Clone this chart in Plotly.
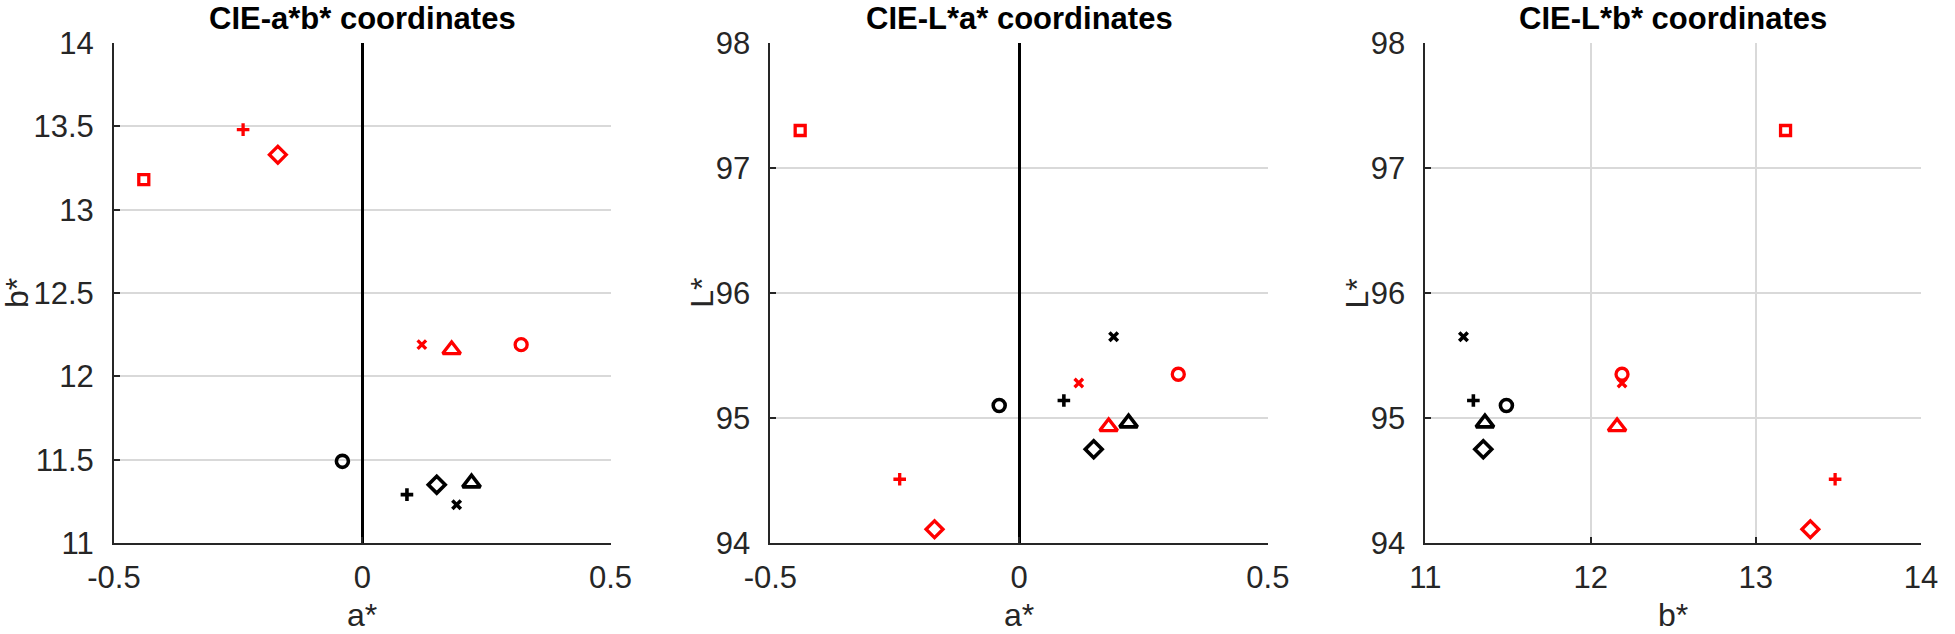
import plotly.graph_objects as go

# ---------------- data ----------------
red_symbols = ["square-open", "cross-thin-open", "diamond-open", "x-thin-open", "triangle-up-open", "circle-open"]
red_a = [-0.44, -0.24, -0.17, 0.12, 0.18, 0.32]
red_b = [13.18, 13.48, 13.33, 12.19, 12.16, 12.19]
red_L = [97.30, 94.51, 94.11, 95.28, 94.93, 95.35]

black_symbols = ["circle-open", "cross-thin-open", "diamond-open", "x-thin-open", "triangle-up-open"]
black_a = [-0.04, 0.09, 0.15, 0.19, 0.22]
black_b = [11.49, 11.29, 11.35, 11.23, 11.36]
black_L = [95.10, 95.14, 94.75, 95.65, 94.96]

panel_titles = ["CIE-a*b* coordinates", "CIE-L*a* coordinates", "CIE-L*b* coordinates"]
x_titles = ["a*", "a*", "b*"]
y_titles = ["b*", "L*", "L*"]
a_ticks = [-0.5, 0, 0.5]
b_ticks = [11, 11.5, 12, 12.5, 13, 13.5, 14]
b_ticks3 = [11, 12, 13, 14]
L_ticks = [94, 95, 96, 97, 98]

size_map = {"square-open": 10, "cross-thin-open": 9, "diamond-open": 13,
            "x-thin-open": 8.5, "triangle-up-open": 15.5, "circle-open": 12}

FONT = "Liberation Sans, Arial, sans-serif"
AX = "#262626"
GRID = "#d9d9d9"

W, H = 1955, 634
px = [(114.0, 613.0), (773.6, 1273.6), (1432.0, 1930.0)]
top, bottom = 43.0, 543.5
ml, mr, mt, mb = px[0][0], W - px[2][1], top, H - bottom
pw = W - ml - mr
domains = [[(a - ml) / pw, (b - ml) / pw] for a, b in px]

fig = go.Figure()

panels = [
    (red_a, red_b, black_a, black_b),
    (red_a, red_L, black_a, black_L),
    (red_b, red_L, black_b, black_L),
]

for i, (rx, ry, bx, by) in enumerate(panels):
    xa = "x" if i == 0 else f"x{i+1}"
    ya = "y" if i == 0 else f"y{i+1}"
    fig.add_trace(go.Scatter(
        x=rx, y=ry, mode="markers", xaxis=xa, yaxis=ya, showlegend=False, opacity=1,
        marker=dict(symbol=red_symbols, size=[size_map[s] for s in red_symbols], opacity=1,
                    color="#ff0000", line=dict(color="#ff0000", width=3.3)),
    ))
    fig.add_trace(go.Scatter(
        x=bx, y=by, mode="markers", xaxis=xa, yaxis=ya, showlegend=False, opacity=1,
        marker=dict(symbol=black_symbols, size=[size_map[s] for s in black_symbols], opacity=1,
                    color="#000000", line=dict(color="#000000", width=3.6)),
    ))

axis_common = dict(
    showline=True, linecolor=AX, linewidth=2, mirror=False,
    ticks="inside", ticklen=6, tickwidth=1.5, tickcolor=AX,
    showgrid=True, gridcolor=GRID, gridwidth=1.5,
    tickfont=dict(family=FONT, size=31, color=AX),
)

x_ranges = [[-0.5, 0.5], [-0.5, 0.5], [11, 14]]
y_ranges = [[11, 14], [94, 98], [94, 98]]
x_tickvals = [a_ticks, a_ticks, b_ticks3]
y_tickvals = [b_ticks, L_ticks, L_ticks]

layout = dict(
    width=W, height=H,
    margin=dict(l=ml, r=mr, t=mt, b=mb, pad=0),
    paper_bgcolor="white", plot_bgcolor="white",
    font=dict(family=FONT, color=AX),
)
for i in range(3):
    xk = "xaxis" if i == 0 else f"xaxis{i+1}"
    yk = "yaxis" if i == 0 else f"yaxis{i+1}"
    ya = "y" if i == 0 else f"y{i+1}"
    xa = "x" if i == 0 else f"x{i+1}"
    layout[xk] = dict(axis_common, domain=domains[i], range=x_ranges[i], anchor=ya,
                      tickvals=x_tickvals[i], ticktext=[f"{v:g}" for v in x_tickvals[i]],
                      zeroline=(i < 2), zerolinecolor="#000000", zerolinewidth=3,
                      ticklabelstandoff=6)
    layout[yk] = dict(axis_common, domain=[0, 1], range=y_ranges[i], anchor=xa,
                      tickvals=y_tickvals[i], ticktext=[f"{v:g}" for v in y_tickvals[i]],
                      zeroline=False, ticklabelstandoff=12)
fig.update_layout(**layout)

ytitle_shift = [-97, -68.6, -68]
for i in range(3):
    xa = "x" if i == 0 else f"x{i+1}"
    ya = "y" if i == 0 else f"y{i+1}"
    fig.add_annotation(text=panel_titles[i], xref=f"{xa} domain", yref=f"{ya} domain",
                       x=0.5, y=1, xanchor="center", yanchor="bottom", yshift=5,
                       showarrow=False,
                       font=dict(family=FONT, size=31, color="#000000", weight="bold"))
    fig.add_annotation(text=x_titles[i], xref=f"{xa} domain", yref=f"{ya} domain",
                       x=0.5, y=0, xanchor="center", yanchor="middle", yshift=-71.5,
                       showarrow=False, font=dict(family=FONT, size=32, color=AX))
    fig.add_annotation(text=y_titles[i], xref=f"{xa} domain", yref=f"{ya} domain",
                       x=0, y=0.5, xanchor="center", yanchor="middle", xshift=ytitle_shift[i],
                       textangle=-90, showarrow=False, font=dict(family=FONT, size=32, color=AX))

fig.write_html("out.html",
               config={"displayModeBar": False},
               post_script="document.body.style.margin='0';document.body.style.overflow='hidden';")
